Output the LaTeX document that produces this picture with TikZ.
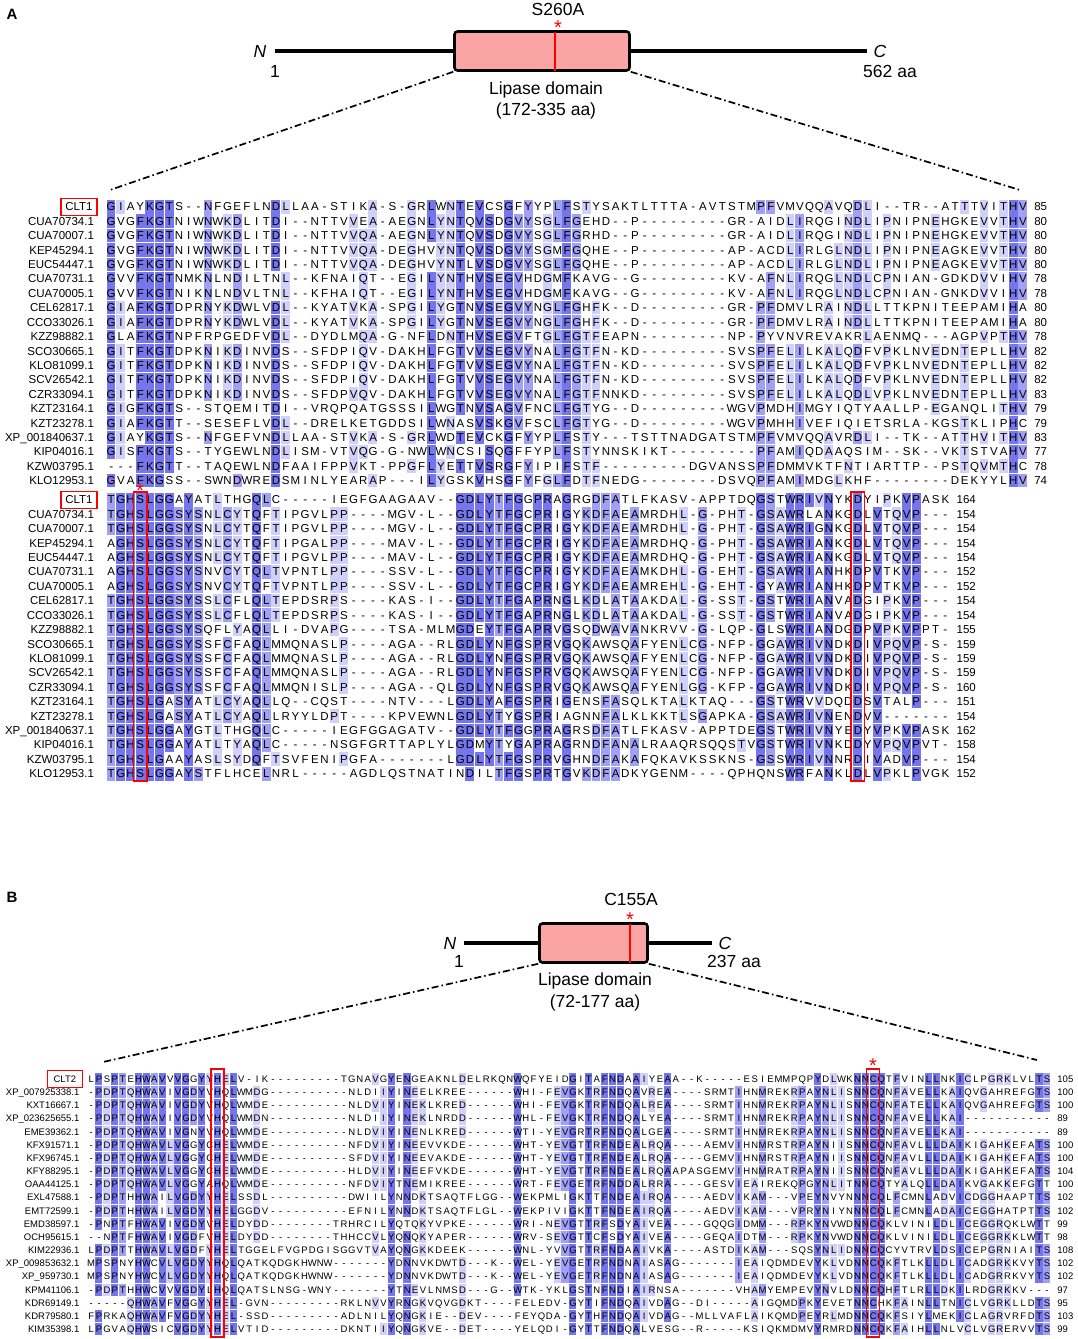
\documentclass[tikz,border=0pt]{standalone}
\usepackage{fontspec}
\setmainfont{Liberation Sans}

\definecolor{pidhigh}{RGB}{118,118,236}
\definecolor{pidmid}{RGB}{160,160,245}
\definecolor{pidlow}{RGB}{208,208,250}
\definecolor{lippink}{RGB}{250,164,164}

\tikzset{
  lipbox/.style={draw, line width=2.6pt, rounded corners=3pt, fill=lippink, minimum height=39pt},
  backbone/.style={line width=4pt},
  zoomline/.style={line width=1.7pt, dash pattern=on 7pt off 3pt on 1.6pt off 3pt},
  mutline/.style={red, line width=1.6pt},
  txt/.style={inner sep=0pt, font=\fontsize{17.5}{20}\selectfont},
  endtxt/.style={inner sep=0pt, font=\fontsize{17.5}{20}\selectfont\itshape},
  mutstar/.style={inner sep=0pt, text=red, font=\fontsize{20}{20}\selectfont},
  panel/.style={inner sep=0pt, font=\fontsize{15}{15}\selectfont\bfseries},
  seqrow/.style={anchor=base west, inner sep=0pt, font=\alnfont},
  seqname/.style={anchor=base east, inner sep=0pt, font=\alnfont},
  seqnum/.style={anchor=base west, inner sep=0pt, font=\alnfont},
  refname/.style={anchor=east, draw=red, line width=1.4pt, inner xsep=3.5pt, inner ysep=0pt,
    minimum height=17pt, minimum width=\alnrefw, font=\alnfont},
  colbox/.style={draw=red, line width=1.3pt},
}

\newcommand\alnfont{\fontsize{\alnfs}{\alnfs}\selectfont}
\newcommand\alnres[1]{\hbox to \alndx pt{\hss#1\hss}}
\newcommand\alncell[3]{%
  \fill[#3] ({\alnxo+(#1-1.5)*\alndx+0.4}, {\alnyo+(#2-1.5)*\alndy+0.4})
    rectangle ++({\alndx-0.8}, {\alndy-0.8});}
\newcommand\alnline[4]{%
  \node[seqrow] (\alnid row#1) at ({\alnxo-0.5*\alndx}, {\alnyo+(#1-1)*\alndy+0.358*\alnfs}) {#3};
  \ifnum#1=1\relax
    \node[refname] (\alnid name#1) at ([xshift={(3.5-\alngap)*1pt}, yshift={0.358*\alnfs*1pt}]\alnid row#1.base west) {#2};
  \else
    \node[seqname] (\alnid name#1) at ([xshift={-\alngap*1pt}]\alnid row#1.base west) {#2};
  \fi
  \node[seqnum] (\alnid num#1) at ([xshift=6pt]\alnid row#1.base east) {#4};}

\ExplSyntaxOn
\seq_new:N \g__aln_name_seq
\seq_new:N \g__aln_res_seq
\seq_new:N \g__aln_num_seq
\int_new:N \l__aln_len_int
\int_new:N \l__aln_best_int
\int_new:N \l__aln_rows_int
\int_new:N \l__aln_col_int
\tl_new:N \l__aln_best_tl
\tl_new:N \l__aln_char_tl
\tl_new:N \l__aln_shade_tl
\tl_new:N \l__aln_row_tl
\tl_new:N \l__aln_boxes_tl
\clist_const:Nn \c__aln_letters_clist
  { A,B,C,D,E,F,G,H,I,J,K,L,M,N,O,P,Q,R,S,T,U,V,W,X,Y,Z }
\clist_map_inline:Nn \c__aln_letters_clist { \int_new:c { l__aln_n #1 _int } }

\NewDocumentCommand \alnclear { }
  {
    \seq_gclear:N \g__aln_name_seq
    \seq_gclear:N \g__aln_res_seq
    \seq_gclear:N \g__aln_num_seq
  }
\NewDocumentCommand \alnrow { m m m }
  {
    \seq_gput_right:Nn \g__aln_name_seq {#1}
    \seq_gput_right:Nn \g__aln_res_seq {#2}
    \seq_gput_right:Nn \g__aln_num_seq {#3}
  }
\cs_new_protected:Npn \__aln_count:n #1
  {
    \tl_set:Nx \l__aln_char_tl { \tl_item:nn {#1} { \l__aln_col_int } }
    \str_if_eq:VnF \l__aln_char_tl { - }
      {
        \int_incr:c { l__aln_n \l__aln_char_tl _int }
        \int_compare:nNnT { \int_use:c { l__aln_n \l__aln_char_tl _int } } > { \l__aln_best_int }
          {
            \int_set:Nn \l__aln_best_int { \int_use:c { l__aln_n \l__aln_char_tl _int } }
            \tl_set_eq:NN \l__aln_best_tl \l__aln_char_tl
          }
      }
  }
\cs_new_protected:Npn \__aln_paint:nn #1#2
  {
    \str_if_eq:eeT { \tl_item:nn {#2} { \l__aln_col_int } } { \l__aln_best_tl }
      {
        \use:x
          { \exp_not:N \alncell { \int_use:N \l__aln_col_int } {#1} { \l__aln_shade_tl } }
      }
  }
\cs_new_protected:Npn \__aln_column:n #1
  {
    \int_set:Nn \l__aln_col_int {#1}
    \clist_map_inline:Nn \c__aln_letters_clist { \int_zero:c { l__aln_n ##1 _int } }
    \int_zero:N \l__aln_best_int
    \tl_clear:N \l__aln_best_tl
    \seq_map_function:NN \g__aln_res_seq \__aln_count:n
    \tl_clear:N \l__aln_shade_tl
    \int_compare:nNnTF { 100 * \l__aln_best_int } > { 80 * \l__aln_rows_int }
      { \tl_set:Nn \l__aln_shade_tl { pidhigh } }
      {
        \int_compare:nNnTF { 100 * \l__aln_best_int } > { 60 * \l__aln_rows_int }
          { \tl_set:Nn \l__aln_shade_tl { pidmid } }
          {
            \int_compare:nNnT { 100 * \l__aln_best_int } > { 40 * \l__aln_rows_int }
              { \tl_set:Nn \l__aln_shade_tl { pidlow } }
          }
      }
    \tl_if_empty:NF \l__aln_shade_tl
      { \seq_map_indexed_function:NN \g__aln_res_seq \__aln_paint:nn }
  }
\cs_new_protected:Npn \__aln_draw_row:nn #1#2
  {
    \tl_clear:N \l__aln_boxes_tl
    \tl_map_inline:nn {#2} { \tl_put_right:Nn \l__aln_boxes_tl { \alnres {##1} } }
    \use:x
      {
        \exp_not:N \alnline {#1}
          { \seq_item:Nn \g__aln_name_seq {#1} }
          { \exp_not:V \l__aln_boxes_tl }
          { \seq_item:Nn \g__aln_num_seq {#1} }
      }
  }
\NewDocumentCommand \alndraw { }
  {
    \int_set:Nn \l__aln_rows_int { \seq_count:N \g__aln_res_seq }
    \tl_set:Nx \l__aln_row_tl { \seq_item:Nn \g__aln_res_seq { 1 } }
    \int_set:Nn \l__aln_len_int { \tl_count:N \l__aln_row_tl }
    \int_step_function:nN { \l__aln_len_int } \__aln_column:n
    \seq_map_indexed_function:NN \g__aln_res_seq \__aln_draw_row:nn
  }
\ExplSyntaxOff

\begin{document}
\begin{tikzpicture}[x=1pt, y=-1pt]
\useasboundingbox (0,0) rectangle (1077,1339);

% A: domain sketch
\node[panel] (labA) at (12,14) {A};
\coordinate (nA) at (275,51);
\coordinate (cA) at (867,51);
\draw[backbone] (nA) -- (cA);
\node[lipbox, minimum width=175pt] (domA) at (542,51) {};
\coordinate (mutA) at (555,51);
\draw[mutline] ([yshift=-1.3pt]mutA |- domA.north) -- ([yshift=1.3pt]mutA |- domA.south);
\node[endtxt] (nlabA) at (260,51) {N};
\node[txt] (onelabA) at (275,71) {1};
\node[endtxt] (clabA) at (880,51) {C};
\node[txt] (lenA) at (890,71) {562 aa};
\node[txt] (mutnameA) at (558,9) {S260A};
\node[mutstar] (starA) at (558,27.5) {*};
\node[txt] (domnameA) at (546,90) {Lipase domain};
\node[txt] (domrangeA) at (546,111) {(172-335 aa)};
\coordinate (zlA) at (110,190);
\coordinate (zrA) at (1020,190);
\draw[zoomline] (domA.south west) -- (zlA);
\draw[zoomline] (domA.south east) -- (zrA);

% A: alignment, part 1
\def\alnid{aa}\def\alnxo{111}\def\alnyo{206.7}\def\alndx{9.7}\def\alndy{14.42}
\def\alnfs{11.5}\def\alngap{12}\def\alnrefw{36pt}
\alnclear
\alnrow{CLT1}{GIAYKGTS--NFGEFLNDLLAA-STIKA-S-GRLWNTEVCSGFYYPLFSTYSAKTLTTTA-AVTSTMPFVMVQQAVQDLI--TR--ATTTVITHV}{85}
\alnrow{CUA70734.1}{GVGFKGTNIWNWKDLITDI--NTTVVEA-AEGNLYNTQVSDGVYSGLFGEHD--P---------GR-AIDLIRQGINDLIPNIPNEHGKEVVTHV}{80}
\alnrow{CUA70007.1}{GVGFKGTNIWNWKDLITDI--NTTVVQA-AEGNLYNTQVSDGVYSGLFGRHD--P---------GR-AIDLIRQGINDLIPNIPNEHGKEVVTHV}{80}
\alnrow{KEP45294.1}{GVGFKGTNIWNWKDLITDI--NTTVVQA-DEGHVYNTQVSDGVYSGMFGQHE--P---------AP-ACDLIRLGLNDLIPNIPNEAGKEVVTHV}{80}
\alnrow{EUC54447.1}{GVGFKGTNIWNWKDLITDI--NTTVVQA-DEGHVYNTLVSDGVYSGLFGQHE--P---------AP-ACDLIRLGLNDLIPNIPNEAGKEVVTHV}{80}
\alnrow{CUA70731.1}{GVVFKGTNMKNLNDILTNL--KFNAIQT--EGILYNTHVSEGVHDGMFKAVG--G---------KV-AFNLIRQGLNDLCPNIAN-GDKDVVIHV}{78}
\alnrow{CUA70005.1}{GVVFKGTNIKNLNDVLTNL--KFHAIQT--EGILYNTHVSEGVHDGMFKAVG--G---------KV-AFNLIRQGLNDLCPNIAN-GNKDVVIHV}{78}
\alnrow{CEL62817.1}{GIAFKGTDPRNYKDWLVDL--KYATVKA-SPGILYGTNVSEGVYNGLFGHFK--D---------GR-PFDMVLRAINDLLTTKPNITEEPAMIHA}{80}
\alnrow{CCO33026.1}{GIAFKGTDPRNYKDWLVDL--KYATVKA-SPGILYGTNVSEGVYNGLFGHFK--D---------GR-PFDMVLRAINDLLTTKPNITEEPAMIHA}{80}
\alnrow{KZZ98882.1}{GLAFKGTNPFRPGEDFVDL--DYDLMQA-G-NFLDNTHVSEGVFTGLFGTFEAPN---------NP-PYVNVREVAKRLAENMQ---AGPVPTHV}{78}
\alnrow{SCO30665.1}{GITFKGTDPKNIKDINVDS--SFDPIQV-DAKHLFGTVVSEGVYNALFGTFN-KD---------SVSPFELILKALQDFVPKLNVEDNTEPLLHV}{82}
\alnrow{KLO81099.1}{GITFKGTDPKNIKDINVDS--SFDPIQV-DAKHLFGTVVSEGVYNALFGTFN-KD---------SVSPFELILKALQDFVPKLNVEDNTEPLLHV}{82}
\alnrow{SCV26542.1}{GITFKGTDPKNIKDINVDS--SFDPIQV-DAKHLFGTVVSEGVYNALFGTFN-KD---------SVSPFELILKALQDFVPKLNVEDNTEPLLHV}{82}
\alnrow{CZR33094.1}{GITFKGTDPKNIKDINVDS--SFDPVQV-DAKHLFGTVVSEGVYNALFGTFNNKD---------SVSPFELILKALQDLVPKLNVEDNTEPLLHV}{83}
\alnrow{KZT23164.1}{GIGFKGTS--STQEMITDI--VRQPQATGSSSILWGTNVSAGVFNCLFGTYG--D---------WGVPMDHIMGYIQTYAALLP-EGANQLITHV}{79}
\alnrow{KZT23278.1}{GIAFKGTT--SESEFLVDL--DRELKETGDDSILWNASVSKGVFSCLFGTYG--D---------WGVPMHHIVEFIQIETSRLA-KGSTKLIPHC}{79}
\alnrow{XP\_001840637.1}{GIAYKGTS--NFGEFVNDLLAA-STVKA-S-GRLWDTEVCKGFYYPLFSTY---TSTTNADGATSTMPFVMVQQAVRDLI--TK--ATTHVITHV}{83}
\alnrow{KIP04016.1}{GISFKGTS--TYGEWLNDLISM-VTVQG-G-NWLWNCSISQGFFYPLFSTYNNSKIKT---------PFAMIQDAAQSIM--SK--VKTSTVAHV}{77}
\alnrow{KZW03795.1}{---FKGTT--TAQEWLNDFAAIFPPVKT-PPGFLYETTVSRGFYIPIFSTF---------DGVANSSPFDMMVKTFNTIARTTP--PSTQVMTHC}{78}
\alnrow{KLO12953.1}{GVAFKGSS--SWNDWREDSMINLYEARAP---ILYGSKVHSGFYFGLFDTFNEDG--------DSVQPFAMIMDGLKHF--------DEKYYLHV}{74}
\alndraw

% A: alignment, part 2
\def\alnid{ab}\def\alnyo{499.7}
\alnclear
\alnrow{CLT1}{TGHSLGGAYATLTHGQLC-----IEGFGAAGAAV--GDLYTFGGPRAGRGDFATLFKASV-APPTDQGSTWRIVNYKDYIPKVPASK}{164}
\alnrow{CUA70734.1}{TGHSLGGSYSNLCYTQFTIPGVLPP----MGV-L--GDLYTFGCPRIGYKDFAEAMRDHL-G-PHT-GSAWRLANKGDLVTQVP---}{154}
\alnrow{CUA70007.1}{TGHSLGGSYSNLCYTQFTIPGVLPP----MGV-L--GDLYTFGCPRIGYKDFAEAMRDHL-G-PHT-GSAWRIGNKGDLVTQVP---}{154}
\alnrow{KEP45294.1}{AGHSLGGSYSNLCYTQFTIPGALPP----MAV-L--GDLYTFGCPRIGYKDFAEAMRDHQ-G-PHT-GSAWRIANKGDLVTQVP---}{154}
\alnrow{EUC54447.1}{AGHSLGGSYSNLCYTQFTIPGVLPP----MAV-L--GDLYTFGCPRIGYKDFAEAMRDHQ-G-PHT-GSAWRIANKGDLVTQVP---}{154}
\alnrow{CUA70731.1}{AGHSLGGSYSNVCYTQLTVPNTLPP----SSV-L--GDLYTFGCPRIGYKDFAEAMKDHL-G-EHT-GSAWRIANHKDPVTKVP---}{152}
\alnrow{CUA70005.1}{AGHSLGGSYSNVCYTQFTVPNTLPP----SSV-L--GDLYTFGCPRIGYKDFAEAMREHL-G-EHT-GYAWRIANHKDPVTKVP---}{152}
\alnrow{CEL62817.1}{TGHSLGGSYSSLCFLQLTEPDSRPS----KAS-I--GDLYTFGAPRNGLKDLATAAKDAL-G-SST-GSTWRIANVADGIPKVP---}{154}
\alnrow{CCO33026.1}{TGHSLGGSYSSLCFLQLTEPDSRPS----KAS-I--GDLYTFGAPRNGLKDLATAAKDAL-G-SST-GSTWRIANVADGIPKVP---}{154}
\alnrow{KZZ98882.1}{TGHSLGGSYSQFLYAQLLI-DVAPG----TSA-MLMGDEYTFGAPRVGSQDWAVANKRVV-G-LQP-GLSWRIANDGDPVPKVPPT-}{155}
\alnrow{SCO30665.1}{TGHSLGGSYSSFCFAQLMMQNASLP----AGA--RLGDLYNFGSPRVGQKAWSQAFYENLCG-NFP-GGAWRIVNDKDIVPQVP-S-}{159}
\alnrow{KLO81099.1}{TGHSLGGSYSSFCFAQLMMQNASLP----AGA--RLGDLYNFGSPRVGQKAWSQAFYENLCG-NFP-GGAWRIVNDKDIVPQVP-S-}{159}
\alnrow{SCV26542.1}{TGHSLGGSYSSFCFAQLMMQNASLP----AGA--RLGDLYNFGSPRVGQKAWSQAFYENLCG-NFP-GGAWRIVNDKDIVPQVP-S-}{159}
\alnrow{CZR33094.1}{TGHSLGGSYSSFCFAQLMMQNISLP----AGA--QLGDLYNFGSPRVGQKAWSQAFYENLGG-KFP-GGAWRIVNDKDIVPQVP-S-}{160}
\alnrow{KZT23164.1}{TGHSLGASYATLCYAQLLQ--CQST----NTV---LGDLYAFGSPRIGENSFASQLKTALKTAQ---GSTWRVVDQDDSVTALP---}{151}
\alnrow{KZT23278.1}{TGHSLGASYATLCYAQLLRYYLDPT----KPVEWNLGDLYTYGSPRIAGNNFALKLKKTLSGAPKA-GSAWRIVNENDVV-------}{154}
\alnrow{XP\_001840637.1}{TGHSLGGAYGTLTHGQLC-----IEGFGGAGATV--GDLYTFGGPRAGRSDFATLFKASV-APPTDEGSTWRIVNYEDYVPKVPASK}{162}
\alnrow{KIP04016.1}{TGHSLGGAYATLTYAQLC-----NSGFGRTTAPLYLGDMYTYGAPRAGRNDFANALRAAQRSQQSTVGSTWRIVNKDDYVPQVPVT-}{158}
\alnrow{KZW03795.1}{TGHSLGAAYASLSYDQFTSVFENIPGFA-------LGDLYTFGSPRVGHNDFAKAFQKAVKSSKNS-GSSWRIVNNRDIVADVP---}{154}
\alnrow{KLO12953.1}{TGHSLGGAYSTFLHCELNRL-----AGDLQSTNATINDILTFGSPRTGVKDFADKYGENM----QPHQNSWRFANKLDLVPKLPVGK}{152}
\alndraw
\draw[colbox] (133.3,492) rectangle (146.9,781);
\draw[colbox] (851.1,492) rectangle (864.7,781);
\node[mutstar] (starA2) at (140.1,491) {*};

% B: domain sketch
\node[panel] (labB) at (12,897) {B};
\coordinate (nB) at (464,943);
\coordinate (cB) at (712,943);
\draw[backbone] (nB) -- (cB);
\node[lipbox, minimum width=108pt] (domB) at (593.5,943) {};
\coordinate (mutB) at (630,943);
\draw[mutline] ([yshift=-1.3pt]mutB |- domB.north) -- ([yshift=1.3pt]mutB |- domB.south);
\node[endtxt] (nlabB) at (450,943) {N};
\node[txt] (onelabB) at (459,961) {1};
\node[endtxt] (clabB) at (725,943) {C};
\node[txt] (lenB) at (734,961) {237 aa};
\node[txt] (mutnameB) at (631,899) {C155A};
\node[mutstar] (starB) at (630,920) {*};
\node[txt] (domnameB) at (595,981) {Lipase domain};
\node[txt] (domrangeB) at (595,1003) {(72-177 aa)};
\coordinate (zlB) at (103,1062);
\coordinate (zrB) at (1037,1060);
\draw[zoomline] (domB.south west) -- (zlB);
\draw[zoomline] (domB.south east) -- (zrB);

% B: alignment
\def\alnid{bb}\def\alnxo{91}\def\alnyo{1079}\def\alndx{7.9}\def\alndy{13.17}
\def\alnfs{9.5}\def\alngap{7.5}\def\alnrefw{35pt}
\alnclear
\alnrow{CLT2}{LPSPTEHWAVVVGGYYHELV-IK---------TGNAVGYENGEAKNLDELRKQNWQFYEIDGITAFNDAAIYEAA--K-----ESIEMMPQPYDLWKNNCQTFVINLLNKICLPGRKLVLTS}{105}
\alnrow{XP\_007925338.1}{-PDPTQHWAVIVGDYVHQLWMDG----------NLDIIYINEELKREE------WHI-FEVGKTRFNDQAVREA----SRMTIHNMREKRPAYNLISNNCQNFAVELLKAIQVGAHREFGTS}{100}
\alnrow{KXT16667.1}{-PDPTQHWAVIVGDYVHQLWMDE----------NLDVIYINEKLKRED------WHI-FEVGKTRFNDQALREA----SRMTIHNMREKRPAYNLISNNCQNFATELLKAIQVGAHREFGTS}{100}
\alnrow{XP\_023625655.1}{-PDPTQHWAVIVGDYVHQLWMDN----------NLDIIYINEKLNRDD------WHL-FEVGKTRFNDQALYEA----SRMTIHNMREKRPAYNLISNNCQNFAVELLKAI-----------}{89}
\alnrow{EME39362.1}{-PDPTQHWAVIVGNYVHQLWMDE----------NLDVIYINENLKRED------WTI-YEVGRTRFNDQALGEA----SRMTIHNMREKRPAYNLISNNCQNFAVELLKAI-----------}{89}
\alnrow{KFX91571.1}{-PDPTQHWAVLVGGYCHELWMDE----------NFDVIYINEEVVKDE------WHT-YEVGTTRFNDEALRQA----AEMVIHNMRSTRPAYNIISNNCQNFAVLLLDAIKIGAHKEFATS}{100}
\alnrow{KFX96745.1}{-PDPTQHWAVLVGGYCHELWMDE----------SFDVIYINEEVAKDE------WHT-YEVGTTRFNDEALRQA----GEMVIHNMRSTRPAYNIISNNCQNFAVLLLDAIKIGAHKEFATS}{100}
\alnrow{KFY88295.1}{-PDPTQHWAVLVGGYCHELWMDE----------HLDVIYINEEFVKDE------WHT-YEVGTTRFNDEALRQAAPASGEMVIHNMRATRPAYNIISNNCQNFAVLLLDAIKIGAHKEFATS}{104}
\alnrow{OAA44125.1}{-PDPTQHWAVLVGGYAHQLWMDE----------NFDVIYTNEMIKREE------WRT-FEVGETRFNDDALRRA----GESVIEAIREKQPGYNLITNNCQTYALQLLDAIKVGAKKEFGTT}{100}
\alnrow{EXL47588.1}{-PDPTHHWAILVGDYYHELSSDL----------DWIILYNNDKTSAQTFLGG--WEKPMLIGKTTFNDEAIRQA----AEDVIKAM---VPEYNVYNNNCQLFCMNLADVICDGGHAAPTTS}{102}
\alnrow{EMT72599.1}{-PDPTHHWAILVGDYYHELGGDV----------EFNILYNNDKTSAQTFLGL--WEKPIVIGKTTFNDEAIRQA----AEDVIKAM---VPRYNIYNNNCQLFCMNLADAICEGGHATPTTS}{102}
\alnrow{EMD38597.1}{-PNPTFHWAVIVGDYVHELDYDD--------TRHRCILYQTQKYVPKE------WRI-NEVGTTRFSDYAIVEA----GQQGIDMM---RPKYNVWDNNCQKLVINILDLICEGGRQKLWTT}{99}
\alnrow{OCH95615.1}{--NPTFHWAVIVGDFVHELDYDD--------THHCCVLYQNQKYAPER------WRV-SEVGTTCFSDYAIVEA----GEQAIDTM---RPKYNVWDNNCQKLVINILDLICEGGRKKLWTT}{98}
\alnrow{KIM22936.1}{LPDPTTHWAVLVGDFYHELTGGELFVGPDGISGGVTVAYQNGKKDEEK------WNL-YVVGTTRFNDAAIVKA----ASTDIKAM---SQSYNLIDNNCQCYVTRVLDSICEPGRNIAITS}{108}
\alnrow{XP\_009853632.1}{MPSPNYHWCVLVGDYYHQLQATKQDGKHWNW-------YDNNVKDWTD---K--WEL-YEVGETRFNDNAIASAG-------IEAIQDMDEVYKLVDNNCQKFTLKLLDLICADGRKKVYTS}{102}
\alnrow{XP\_959730.1}{MPSPNYHWCVLVGDYYHQLQATKQDGKHWNW-------YDNNVKDWTD---K--WEL-YEVGETRFNDNAIASAG-------IEAIQDMDEVYKLVDNNCQKFTLKLLDLICADGRRKVYTS}{102}
\alnrow{KPM41106.1}{-PDPTHHWCVVVGDYLHQLQATSLNSG-WNY-------YTNEVLNMSD---G--WTK-YKLGSTNFNDIAIRNSA-------VHAMYEMPEVYNVLDNNCQHFTLRLLDKILRDGRKKV---}{97}
\alnrow{KDR69149.1}{-----QHWAVFVGGYYHEL-GVN---------RKLNVVYRNGKVQVGDKT----FELEDV-GYTIFNDQAIVDAG--DI-----AIGQMDPKYEVETNNCHKFAINLLTNICLVGRKLLDTS}{95}
\alnrow{KDR79580.1}{FPRKAQHWAVFVGDYYHEL-SSD---------ADLNILYQNGKIE--DEV----FEYQDA-GYTHFNDQAIVDAG--MLLVAFLAIKQMDPEYRLMDNNCQKFSIYLMEKICLAGRVRFDTS}{103}
\alnrow{KIM35398.1}{LPGVAQHWSICVGDYYHELVTID---------DKNTIIYQNGKVE--DET----YELQDI-GYTTFNDQALVESG--R-----KSIQKMDMVYRMRDNNCQKFAIHLLNLVCLVGRERVVTS}{99}
\alndraw
\draw[colbox] (210.9,1069) rectangle (223.9,1337);
\draw[colbox] (866.6,1069) rectangle (879.6,1337);
\node[mutstar] (starB2) at (873.1,1066) {*};
\end{tikzpicture}
\end{document}
